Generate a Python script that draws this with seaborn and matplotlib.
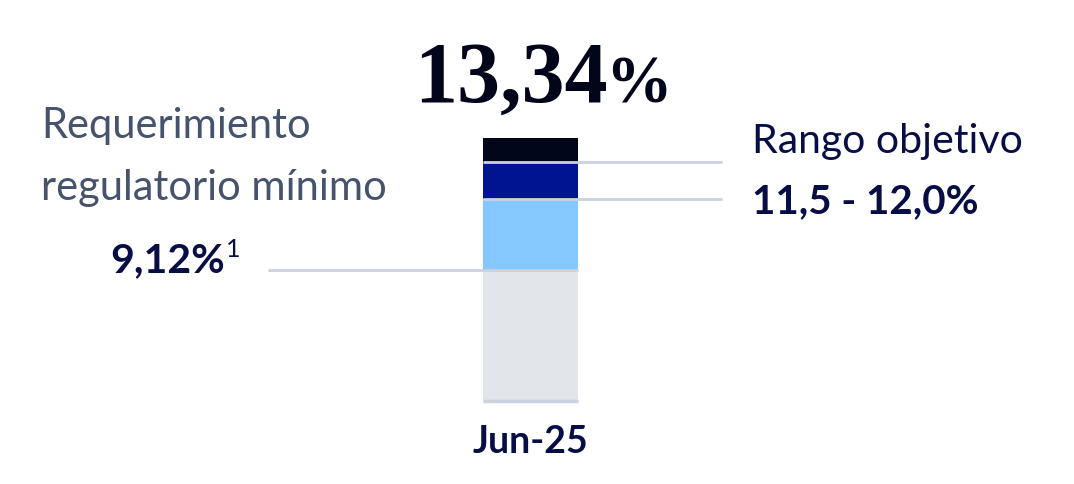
import seaborn as sns
import matplotlib.pyplot as plt
import numpy as np
import pandas as pd

# datos
periodo = ['Jun-25']
segmentos = ['base', 'requerimiento', 'rango', 'exceso']
alturas = [5.46, 2.96, 1.52, 1.00]   # alturas esquematicas del grafico
colores = ['#E2E6EA', '#85C8FF', '#001391', '#000519']
total_txt = '13,34'
minimo_txt = '9,12%'
rango_txt = '11,5 - 12,0%'

acum = np.cumsum(alturas)
df = pd.DataFrame({'periodo': periodo * len(segmentos), 'segmento': segmentos, 'acum': acum})

navy = '#070E46'
gris_txt = '#46536D'
linea = '#CBD2DE'

sns.set_style('white')
plt.rcParams['font.family'] = ['Lato', 'DejaVu Sans']

f = plt.figure(figsize=(10.74, 4.84), dpi=100)
ax = f.add_axes([0, 0, 1, 1])

# barras apiladas: se dibujan de mayor a menor acumulado
for i in range(len(segmentos) - 1, -1, -1):
    sns.barplot(data=df.iloc[[i]], x='periodo', y='acum', color=colores[i],
                width=0.8, saturation=1, ax=ax, linewidth=0)

ax.set_xlim(-4.467, 4.577)
ax.set_ylim(-3.473, 16.706)
ax.set_axis_off()

# etiqueta del periodo bajo la barra
ax.annotate(periodo[0], xy=(0, 0), xytext=(0, -37.7), textcoords='offset points',
            ha='center', va='baseline', fontsize=27, fontweight='bold', color=navy)

# lineas de referencia
ax.plot([-0.4, 0.4], [0, 0], color=linea, lw=2.5, zorder=5, solid_capstyle='butt')
ax.plot([-2.21, 0.4], [acum[0], acum[0]], color=linea, lw=2, zorder=5, solid_capstyle='butt')
ax.plot([-0.4, 1.613], [acum[1], acum[1]], color=linea, lw=2, zorder=5, solid_capstyle='butt')
ax.plot([-0.4, 1.613], [acum[2], acum[2]], color=linea, lw=2, zorder=5, solid_capstyle='butt')

# total encima de la barra
ax.annotate(total_txt, xy=(0, acum[-1]), xytext=(56, 26), textcoords='offset points',
            ha='right', va='baseline', fontsize=62, fontweight='bold',
            family='Liberation Serif', color='#000519')
ax.annotate('%', xy=(0, acum[-1]), xytext=(54, 26), textcoords='offset points',
            ha='left', va='baseline', fontsize=48, fontweight='bold',
            family='Liberation Serif', color='#000519')

# requerimiento minimo (izquierda)
ax.annotate('Requerimiento', xy=(-4.122, acum[0]), xytext=(0, 94.5), textcoords='offset points',
            ha='left', va='baseline', fontsize=30, color=gris_txt)
ax.annotate('regulatorio mínimo', xy=(-4.122, acum[0]), xytext=(0, 50.5), textcoords='offset points',
            ha='left', va='baseline', fontsize=30, color=gris_txt)
ax.annotate(minimo_txt, xy=(-2.573, acum[0]), xytext=(0, -1.5), textcoords='offset points',
            ha='right', va='baseline', fontsize=29.5, fontweight='bold', color=navy)
ax.annotate('1', xy=(-2.573, acum[0]), xytext=(0.5, 9), textcoords='offset points',
            ha='left', va='baseline', fontsize=18, color=navy)

# rango objetivo (derecha)
ax.annotate('Rango objetivo', xy=(1.874, acum[2]), xytext=(-1, 6.5), textcoords='offset points',
            ha='left', va='baseline', fontsize=29.5, color=navy)
ax.annotate(rango_txt, xy=(1.874, acum[1]), xytext=(-1, -10.5), textcoords='offset points',
            ha='left', va='baseline', fontsize=29, fontweight='bold', color=navy)

f.savefig('out.png', dpi=100, facecolor='white')
